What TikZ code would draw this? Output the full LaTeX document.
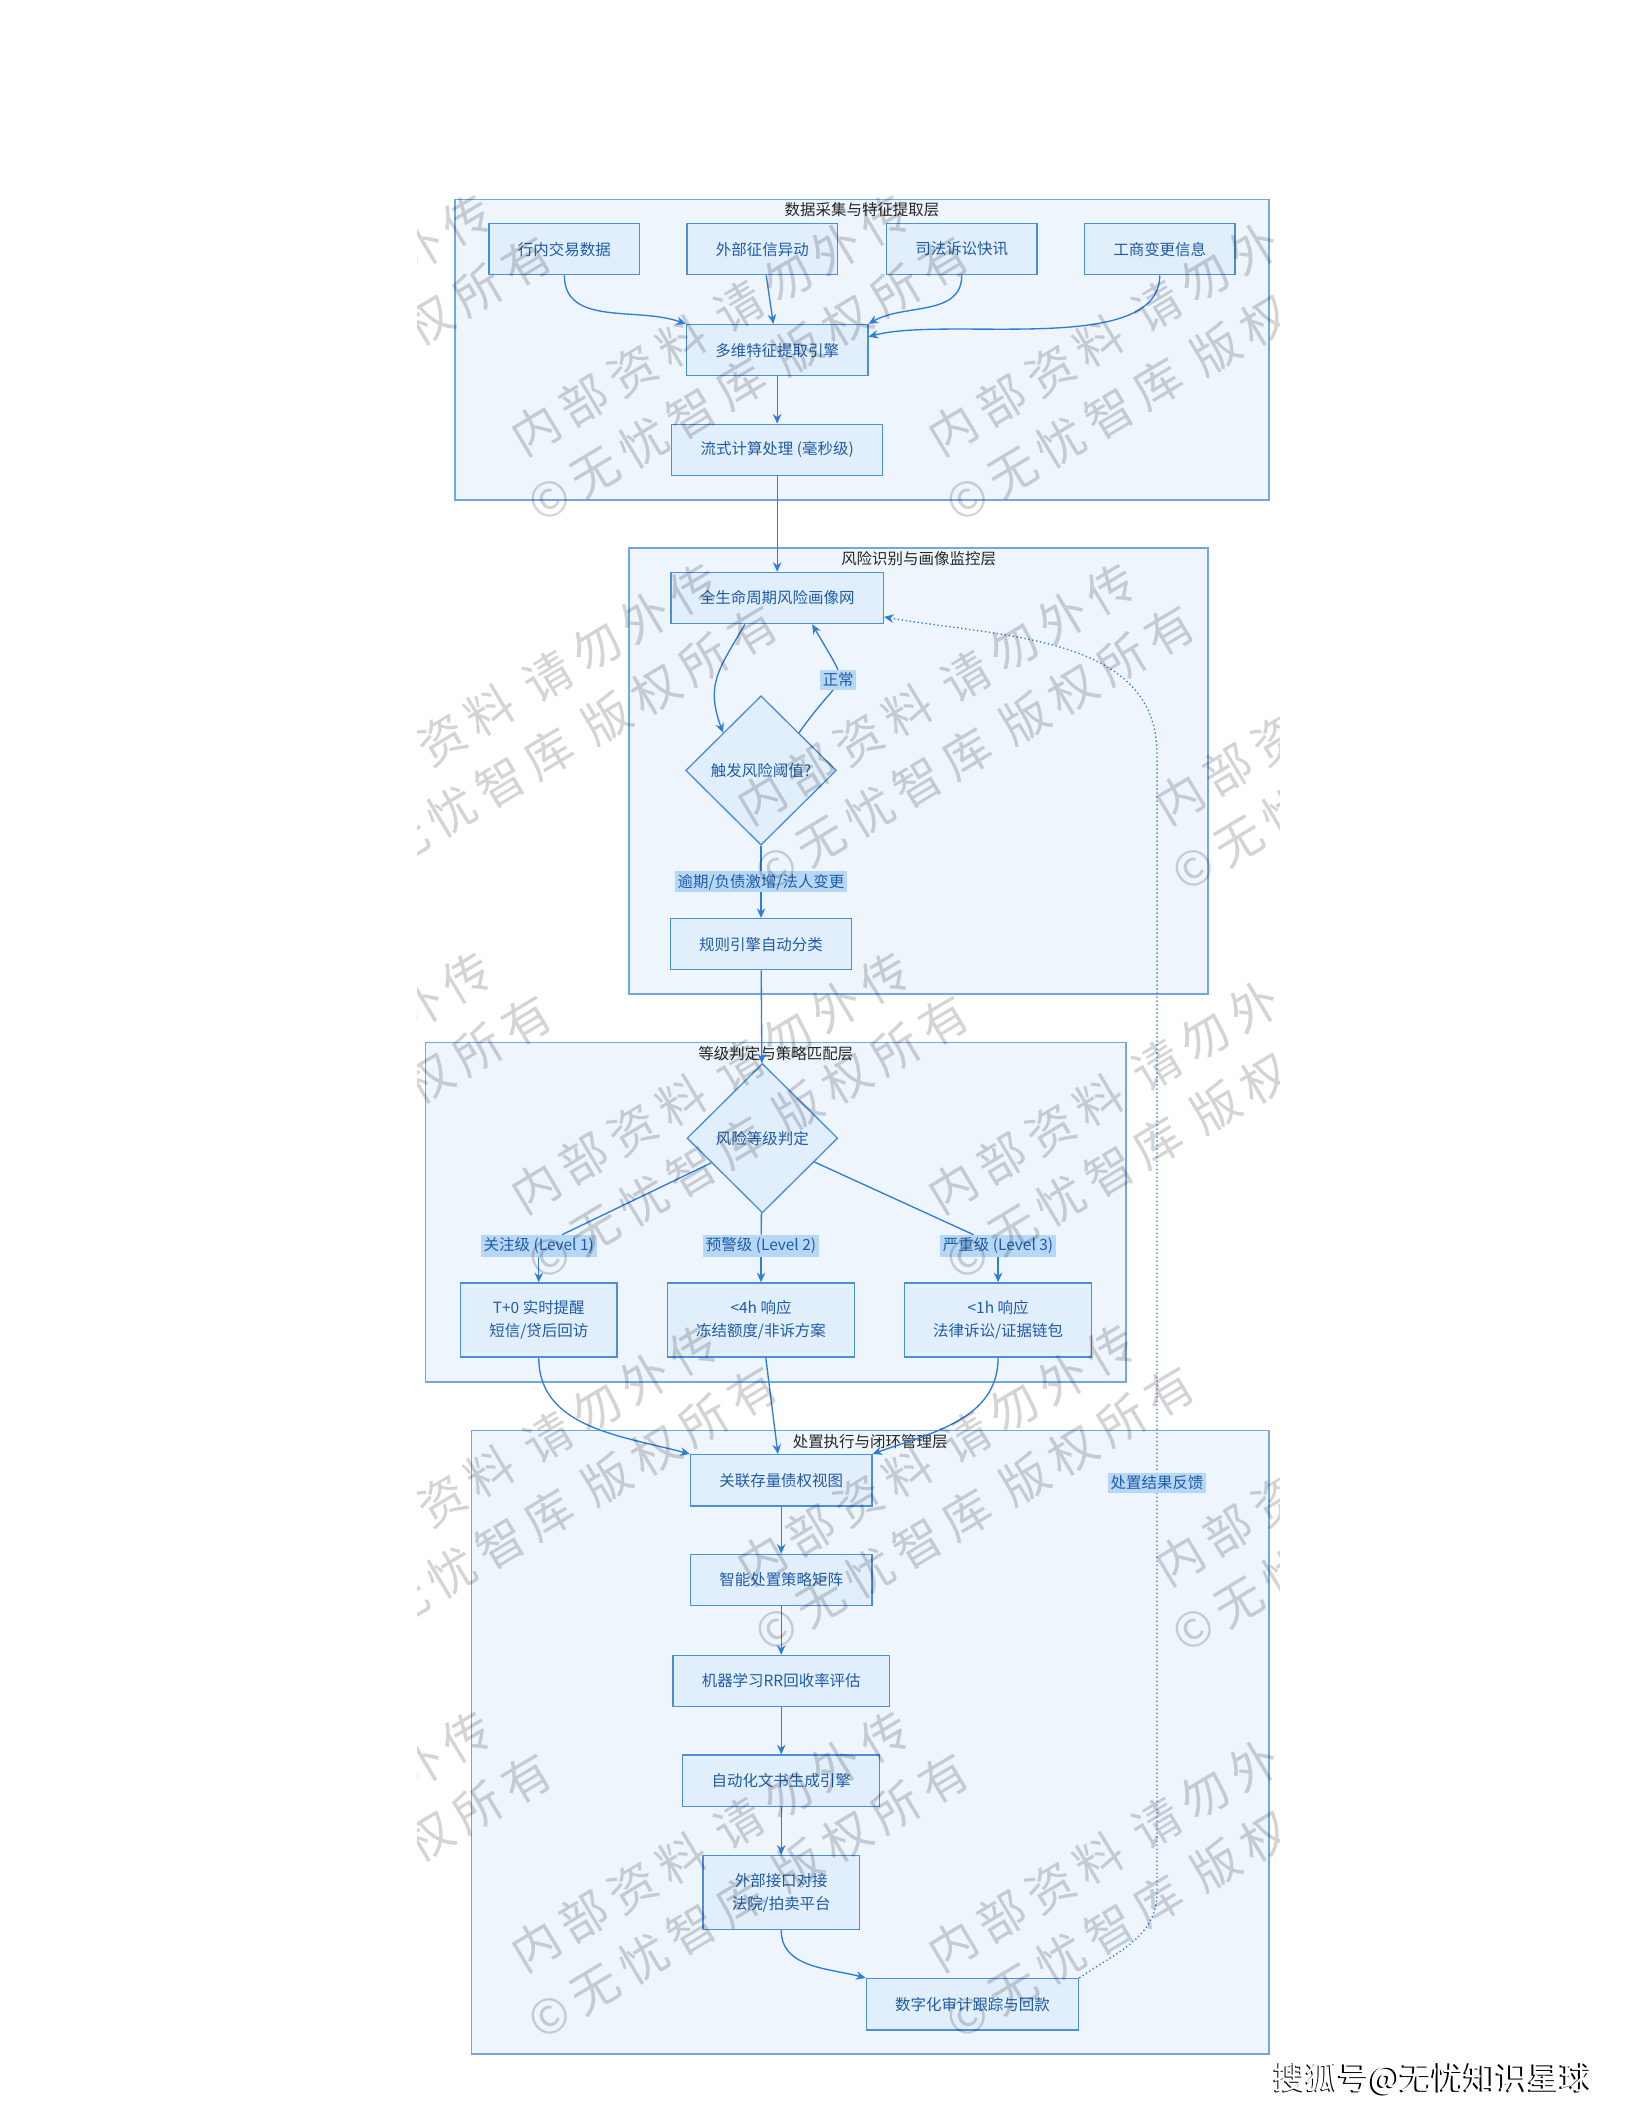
\documentclass[tikz,border=0pt]{standalone}
\usepackage{fontspec}
\setmainfont{Noto Sans CJK SC}
\newfontfamily\wmfont[LetterSpace=18]{Noto Sans CJK SC}
\usetikzlibrary{arrows.meta, positioning, shapes.geometric, calc}
\definecolor{layerfill}{HTML}{EEF5FD}
\definecolor{layerline}{HTML}{6FA8E4}
\definecolor{boxfill}{HTML}{E1EEFB}
\definecolor{boxline}{HTML}{4A8FDB}
\definecolor{flowblue}{HTML}{2F7DDB}
\definecolor{inkblue}{HTML}{1F5CA8}
\definecolor{tagfill}{HTML}{B7D7F6}

\begin{document}
\begin{tikzpicture}[x=0.505pt, y=-0.505pt,
		layer/.style={draw=layerline, fill=layerfill, line width=0.6pt},
		ltitle/.style={font=\fontsize{5.8}{7}\selectfont, text=black!85, inner sep=1pt},
		box/.style={draw=boxline, fill=boxfill, line width=0.5pt, minimum height=19.2pt, inner xsep=10.8pt, align=center, text=inkblue, font=\fontsize{5.8}{8.6}\selectfont},
		tallbox/.style={box, minimum height=27.8pt},
		decide/.style={diamond, aspect=1, draw=boxline, fill=boxfill, line width=0.5pt, minimum width=56.5pt, minimum height=56pt, inner sep=0pt, text=inkblue, font=\fontsize{5.8}{7}\selectfont},
		flow/.style={draw=flowblue, line width=0.5pt},
		arr/.style={flow, -{Stealth[length=3.6pt, width=3.2pt]}},
		fb/.style={arr, densely dotted},
		elbl/.style={fill=tagfill, text=inkblue, inner sep=1pt, font=\fontsize{5.8}{7}\selectfont},
		wmark/.style={rotate=31, anchor=west, inner sep=0pt, text=black, text opacity=0.17, font=\wmfont\fontsize{18}{18}\selectfont},
		sohu/.style={font=\fontsize{12}{14}\selectfont, inner sep=0pt}
	]
	\fill[white] (0,0) rectangle (1212,1568);
	\useasboundingbox (0,0) rectangle (1212,1568);

	% layers
	\draw[layer] (338,148) rectangle (942,371);
	\draw[layer] (467,407) rectangle (897,738);
	\draw[layer] (316,774) rectangle (836,1026);
	\draw[layer] (350,1062) rectangle (942,1525);
	\node[ltitle] (t1) at (640,156) {数据采集与特征提取层};
	\node[ltitle] (t2) at (682,415) {风险识别与画像监控层};
	\node[ltitle] (t3) at (576,782) {等级判定与策略匹配层};
	\node[ltitle] (t4) at (646,1070) {处置执行与闭环管理层};

	% data sources
	\node[box] (src1) at (419,185) {行内交易数据};
	\node[box] (src2) at (566,185) {外部征信异动};
	\node[box] (src3) at (714,185) {司法诉讼快讯};
	\node[box] (src4) at (861,185) {工商变更信息};
	\node[box] (engine) at (577,260) {多维特征提取引擎};
	\node[box] (stream) at (577,334) {流式计算处理 (毫秒级)};

	% monitoring
	\node[box] (profile) at (577,444) {全生命周期风险画像网};
	\node[decide] (trigger) at (565,572) {触发风险阈值?};
	\node[box] (rules) at (565,701) {规则引擎自动分类};

	% grading
	\node[decide] (grade) at (566,845) {风险等级判定};
	\node[elbl] (tag1) at (400,925) {关注级 (Level 1)};
	\node[elbl] (tag2) at (565,925) {预警级 (Level 2)};
	\node[elbl] (tag3) at (741,925) {严重级 (Level 3)};
	\node[tallbox] (lv1) at (400,980) {T+0 实时提醒\\短信/贷后回访};
	\node[tallbox] (lv2) at (565,980) {<4h 响应\\冻结额度/非诉方案};
	\node[tallbox] (lv3) at (741,980) {<1h 响应\\法律诉讼/证据链包};

	% disposal
	\node[box] (view) at (580,1099) {关联存量债权视图};
	\node[box] (strategy) at (580,1173) {智能处置策略矩阵};
	\node[box] (recovery) at (580,1248) {机器学习RR回收率评估};
	\node[box] (docgen) at (580,1322) {自动化文书生成引擎};
	\node[tallbox] (gateway) at (580,1405) {外部接口对接\\法院/拍卖平台};
	\node[box] (audit) at (722,1488) {数字化审计跟踪与回款};

	\coordinate (fbLow) at (859,1405);
	\coordinate (fbHigh) at (859,560);

	% edges
	\draw[arr] (src1.south) to[out=-90, in=160] (engine.north west);
	\draw[arr] (src2) -- (engine);
	\draw[arr] (src3.south) to[out=-90, in=30] (engine.north east);
	\draw[arr] (src4.south) to[out=-90, in=15, looseness=0.7] ($(engine.east)+(0,-10)$);
	\draw[arr] (engine) -- (stream);
	\draw[arr] (stream) -- (profile);
	\draw[arr] ($(profile.south)+(-24,0)$) to[out=-120, in=110, looseness=1.2] (trigger.north west);
	\draw[arr] (trigger.north east) to[out=55, in=-60, looseness=1.9] node[elbl, pos=0.5] (normal) {正常} ($(profile.south)+(26,0)$);
	\draw[arr] (trigger) -- node[elbl] (overdue) {逾期/负债激增/法人变更} (rules);
	\draw[arr] (rules) -- (grade);
	\draw[flow] (grade) -- (tag1);
	\draw[flow] (grade) -- (tag2);
	\draw[flow] (grade) -- (tag3);
	\draw[arr] (tag1) -- (lv1);
	\draw[arr] (tag2) -- (lv2);
	\draw[arr] (tag3) -- (lv3);
	\draw[arr] (lv1.south) to[out=-90, in=165] (view.north west);
	\draw[arr] (lv2) -- (view);
	\draw[arr] (lv3.south) to[out=-90, in=20] (view.north east);
	\draw[arr] (view) -- (strategy);
	\draw[arr] (strategy) -- (recovery);
	\draw[arr] (recovery) -- (docgen);
	\draw[arr] (docgen) -- (gateway);
	\draw[arr] (gateway.south) to[out=-90, in=165] (audit.north west);
	\draw[fb] (audit.north east) to[out=35, in=-90] (fbLow) -- node[elbl, pos=0.36] (fbtag) {处置结果反馈} (fbHigh) to[out=90, in=-10] ($(profile.east)+(0,14)$);

	% watermark
	\begin{scope}
		\clip (310,128) rectangle (950,1535);
		\foreach \wx/\wy [count=\wi] in {72/328, 382/328, 692/328, 72/891, 382/891, 692/891, 72/1454, 382/1454, 692/1454, -70/602, 240/602, 550/602, 860/602, -70/1167, 240/1167, 550/1167, 860/1167}{
			\node[wmark] (wma\wi) at (\wx,\wy) {内部资料 请勿外传};
			\node[wmark] (wmb\wi) at ($(\wx,\wy)+(13,50)$) {©无忧智库 版权所有};
		}
	\end{scope}

	\node[sohu, text=black] (sohushadow) at (1062.8,1544.2) {搜狐号@无忧知识星球};
	\node[sohu, text=white] (sohutag) at (1064,1543) {搜狐号@无忧知识星球};
\end{tikzpicture}
\end{document}
